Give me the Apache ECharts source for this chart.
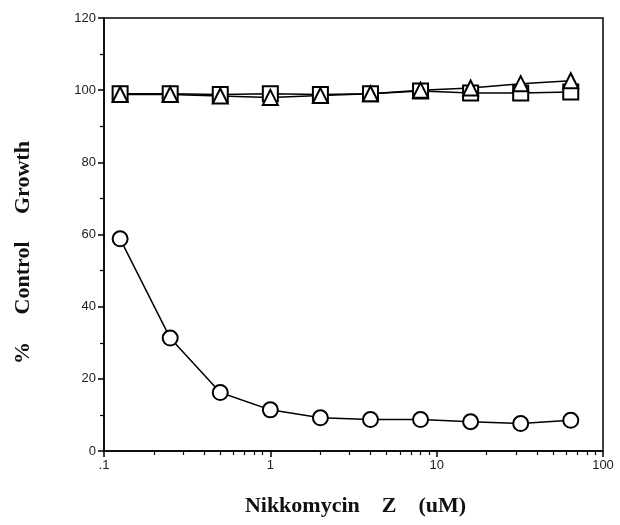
<!DOCTYPE html>
<html>
<head>
<meta charset="utf-8">
<script src="https://cdn.jsdelivr.net/npm/echarts@6/dist/echarts.min.js"></script>
</head>
<body style="margin:0;background:#fff">
<div id="chart" style="width:620px;height:525px"></div>
<script>
// concentration (uM), doubling dilutions
var conc = [0.125, 0.25, 0.5, 1, 2, 4, 8, 16, 32, 64];
var circleVals = [58.8, 31.3, 16.2, 11.4, 9.2, 8.7, 8.7, 8.1, 7.6, 8.5];
var squareVals = [99, 99, 98.8, 99, 98.8, 99, 99.8, 99.2, 99.2, 99.5];
var triangleVals = [98.8, 98.8, 98.4, 98, 98.5, 99, 100, 100.6, 101.8, 102.6];
var xMinorTicks = [0.2, 0.3, 0.4, 0.5, 0.6, 0.7, 0.8, 0.9, 2, 3, 4, 5, 6, 7, 8, 9, 20, 30, 40, 50, 60, 70, 80, 90];
var xLabels = {0.1: '.1', 1: '1', 10: '10', 100: '100'};

function pairs(ys) {
    var out = [];
    for (var i = 0; i < conc.length; i++) out.push([conc[i], ys[i]]);
    return out;
}

var myChart = echarts.init(document.getElementById('chart'));
var tickFont = {color: '#222', fontSize: 13, fontFamily: 'Liberation Sans'};
var titleFont = {color: '#111', fontSize: 22, fontWeight: 'bold', fontFamily: 'Liberation Serif'};

function seriesOf(vals, sym, size) {
    return {
        type: 'line', data: pairs(vals), symbol: sym, symbolSize: size,
        showAllSymbol: true, animation: false,
        lineStyle: {color: '#000', width: 1.5},
        itemStyle: {color: '#fff', borderColor: '#000', borderWidth: 2}
    };
}

var option = {
    animation: false,
    grid: {left: 104, right: 17, top: 18, bottom: 74, show: true, borderColor: '#000', borderWidth: 1.5},
    xAxis: [{
        type: 'log', logBase: 10, min: 0.1, max: 100,
        name: 'Nikkomycin    Z    (uM)', nameLocation: 'middle', nameGap: 44,
        nameTextStyle: Object.assign({padding: [0, 0, 0, 4]}, titleFont),
        axisLine: {lineStyle: {color: '#000', width: 1.5}},
        axisTick: {inside: false, length: 6, lineStyle: {color: '#000', width: 1.5}},
        axisLabel: Object.assign({margin: 8, formatter: function (v) { return xLabels[v] || v; }}, tickFont),
        splitLine: {show: false}
    }, {
        type: 'log', logBase: 10, min: 0.1, max: 100, position: 'bottom',
        axisLine: {show: false},
        axisTick: {show: true, length: 4, customValues: xMinorTicks, lineStyle: {color: '#000', width: 1.2}},
        axisLabel: {show: false},
        splitLine: {show: false}
    }],
    yAxis: {
        type: 'value', min: 0, max: 120, interval: 20,
        name: '%     Control     Growth', nameLocation: 'middle', nameGap: 70,
        nameTextStyle: Object.assign({padding: [0, 36, 0, 0]}, titleFont),
        axisLine: {lineStyle: {color: '#000', width: 1.5}},
        axisTick: {inside: false, length: 6, lineStyle: {color: '#000', width: 1.5}},
        minorTick: {show: true, splitNumber: 2, length: 4, lineStyle: {color: '#000', width: 1.2}},
        axisLabel: Object.assign({margin: 8}, tickFont),
        splitLine: {show: false}
    },
    series: [
        seriesOf(circleVals, 'circle', 15),
        seriesOf(squareVals, 'rect', 15),
        seriesOf(triangleVals, 'triangle', 15)
    ]
};
myChart.setOption(option);
</script>
</body>
</html>
